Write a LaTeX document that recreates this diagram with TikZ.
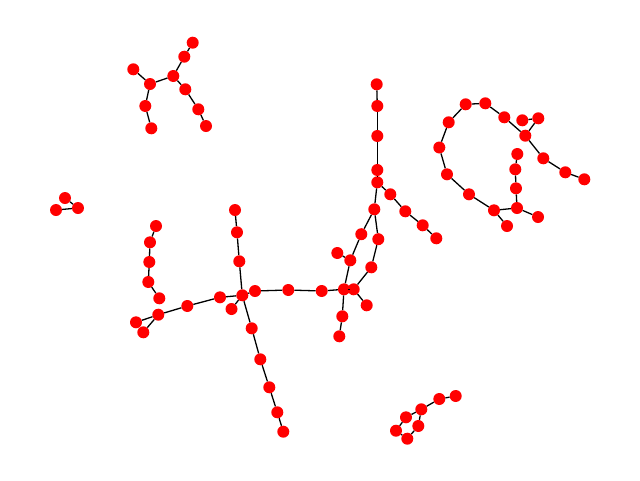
\documentclass[tikz,border=0pt]{standalone}
\begin{document}
\begin{tikzpicture}[x=1pt,y=-1pt,
  vtx/.style={circle,fill=red,inner sep=0pt,minimum size=12pt},
  lnk/.style={line width=1.3pt,black}]
\useasboundingbox (0,0) rectangle (640,480);
% component A
\foreach \n/\x/\y in {a1/192.7/42.7,a2/184.3/56.7,a3/173.3/76,a4/150/84,a5/133.3/69.3,a6/145.3/106,a7/151.3/128.3,a8/185.3/89.3,a9/198.3/109.3,a10/206/126,
 b1/65/198,b2/78/208,b3/56/210,
 c1/156/226,c2/150/242.3,c3/149.3/262,c4/148.3/282,c5/159.3/298.3,
 d1/158.3/314.7,d2/136/322.3,d3/143.3/332.3,d4/187.3/306,d5/220/297.3,h/242.3/295.3,d6/231.5/309,d7/239.3/261.3,d8/237/232.3,d9/235/210,
 d10/251.7/328.3,d11/260.3/359.3,d12/269.3/387.3,d13/277.3/412.3,d14/283.3/431.7,d15/255/291,d16/288.3/290,d17/321.7/291,d18/344/289.3,d19/353.7/289.3,
 d20/366.7/305.3,d21/342.3/316.3,d22/339.3/336.3,d23/350.3/260.3,d24/337.3/253,d25/361.3/234.2,d26/371.3/267.3,d27/378.3/239.2,d28/374.3/209.3,
 d29/377.3/182.3,d30/377.3/170,d31/377.3/136,d32/377.3/106,d33/376.7/84.3,d34/390.3/194.3,d35/405.3/211.3,d36/422.7/225.3,d37/436.3/238.3,
 e1/448.7/122.3,e2/465.7/104.3,e3/485.3/103.3,e4/504.3/117.3,e5/525.3/135.7,e6/522.3/120.3,e7/538.3/118.3,e8/543.3/158.3,e9/565.3/172.3,e10/584.3/179.3,
 e11/439.3/147.5,e12/447/174.3,e13/469/194.3,e14/494/210.3,e15/507/226,e16/517/208,e17/538/217,e18/516/188.3,e19/515.3/169.3,e20/517.3/154,
 f1/455.7/396,f2/439.3/399,f3/421.3/409.3,f4/406/417.3,f5/396/430.7,f6/407.3/438.7,f7/418.3/426}
 {\node[vtx] (\n) at (\x,\y) {};}
\foreach \u/\v in {a1/a2,a2/a3,a3/a4,a4/a5,a4/a6,a6/a7,a3/a8,a8/a9,a9/a10,
 b1/b2,b2/b3,
 c1/c2,c2/c3,c3/c4,c4/c5,
 d1/d2,d1/d3,d1/d4,d4/d5,d5/h,h/d6,h/d7,d7/d8,d8/d9,h/d10,d10/d11,d11/d12,d12/d13,d13/d14,h/d15,d15/d16,d16/d17,d17/d18,d18/d19,d19/d20,
 d18/d21,d21/d22,d18/d23,d23/d24,d23/d25,d25/d28,d19/d26,d26/d27,d27/d28,d28/d29,d29/d30,d30/d31,d31/d32,d32/d33,d29/d34,d34/d35,d35/d36,d36/d37,
 e1/e2,e2/e3,e3/e4,e4/e5,e6/e7,e7/e5,e5/e8,e8/e9,e9/e10,e1/e11,e11/e12,e12/e13,e13/e14,e14/e15,e14/e16,e16/e17,e16/e18,e18/e19,e19/e20,
 f1/f2,f2/f3,f3/f4,f4/f5,f5/f6,f6/f7,f7/f3}
 {\draw[lnk] (\u) -- (\v);}
\end{tikzpicture}
\end{document}
